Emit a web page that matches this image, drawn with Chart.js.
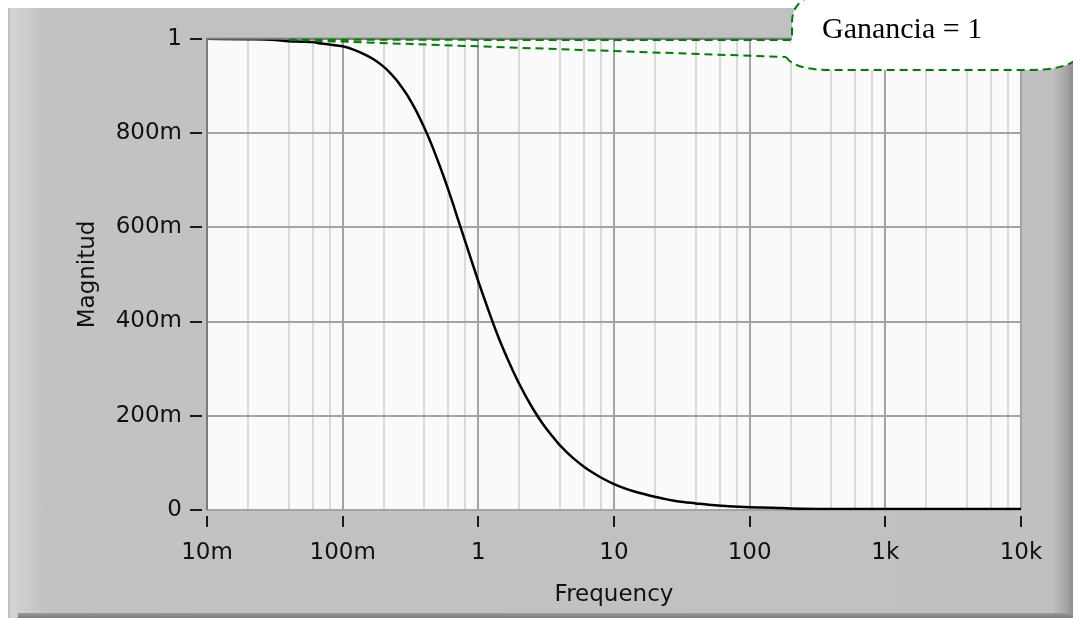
<!DOCTYPE html>
<html>
<head>
<meta charset="utf-8">
<title>Magnitud</title>
<script src="https://cdn.jsdelivr.net/npm/chart.js@4.4.1/dist/chart.umd.min.js"></script>
<style>
  html, body { margin: 0; padding: 0; background: #fff; overflow: hidden; }
  #frame {
    position: absolute; left: 8px; top: 8px; width: 1065px; height: 610px;
    background: linear-gradient(to right, #b8b8b8 0, #d4d4d4 3px, #cdcdcd 18px, #c2c2c2 36px, #c0c0c0 1044px, #a6a6a6 1058px, #8e8e8e 1065px);
  }
  #frameBottom {
    position: absolute; left: 18px; top: 613px; width: 1055px; height: 5px;
    background: linear-gradient(to bottom, #9a9a9a, #7c7c7c);
  }
  #chart { position: absolute; left: 0; top: 0; }
</style>
</head>
<body>
<div id="frame"></div>
<div id="frameBottom"></div>
<canvas id="chart" width="1073" height="618"></canvas>
<script>
// frequency response
const frequencies = [0.01, 0.02, 0.03, 0.04, 0.05, 0.06, 0.07, 0.08, 0.1, 0.12, 0.15, 0.17, 0.2, 0.22, 0.25, 0.27, 0.3, 0.32, 0.35,
  0.4, 0.45, 0.5, 0.55, 0.6, 0.65, 0.7, 0.75, 0.8, 0.9, 1, 1.1, 1.2, 1.35, 1.5, 1.75, 2, 2.5, 3, 3.5, 4, 5, 6, 7, 8, 10,
  12, 15, 20, 25, 30, 40, 50, 70, 100, 150, 200, 500, 1000, 10000];
const magnitude = [1.000, 0.999, 0.998, 0.995, 0.994, 0.993, 0.990, 0.988, 0.984, 0.977, 0.965, 0.956, 0.941, 0.930, 0.912, 0.899, 0.880, 0.866, 0.846,
  0.811, 0.777, 0.743, 0.711, 0.680, 0.650, 0.621, 0.595, 0.570, 0.525, 0.485, 0.451, 0.420, 0.380, 0.347, 0.303, 0.268, 0.217, 0.182, 0.157, 0.137, 0.110, 0.092, 0.079, 0.069, 0.055,
  0.046, 0.037, 0.028, 0.022, 0.018, 0.014, 0.011, 0.008, 0.006, 0.005, 0.003, 0.002, 0.002, 0.002];

const xTickValues = [0.01, 0.1, 1, 10, 100, 1000, 10000];
const xTickLabels = ["10m", "100m", "1", "10", "100", "1k", "10k"];
const yTickValues = [0, 0.2, 0.4, 0.6, 0.8, 1];
const yTickLabels = ["0", "200m", "400m", "600m", "800m", "1"];
const minorSteps = [2, 4, 6, 8];

const calloutText = "Ganancia = 1";

// decade lines plus the minor lines in between
const xGridValues = [];
xTickValues.forEach((d, i) => {
  xGridValues.push(d);
  if (i < xTickValues.length - 1) minorSteps.forEach(m => xGridValues.push(+(d * m).toPrecision(3)));
});

const axisFont = { family: "DejaVu Sans", size: 23 };

const plotDecor = {
  id: "plotDecor",
  beforeDraw(chart) {
    const { ctx, chartArea: a } = chart;
    ctx.save();
    ctx.fillStyle = "#fafafa";
    ctx.fillRect(a.left, a.top, a.right - a.left, a.bottom - a.top);
    ctx.restore();
  },
  afterDraw(chart) {
    const { ctx, chartArea: a, scales } = chart;
    ctx.save();
    // plot border, dark on top and left
    ctx.strokeStyle = "#7a7a7a";
    ctx.lineWidth = 2;
    ctx.beginPath();
    ctx.moveTo(a.left, a.bottom);
    ctx.lineTo(a.left, a.top);
    ctx.lineTo(a.right, a.top);
    ctx.stroke();

    // tick marks outside the plot
    ctx.strokeStyle = "#1a1a1a";
    ctx.lineWidth = 2;
    ctx.beginPath();
    yTickValues.forEach(v => {
      const y = Math.round(scales.y.getPixelForValue(v));
      ctx.moveTo(a.left - 17, y);
      ctx.lineTo(a.left - 5, y);
    });
    xTickValues.forEach(v => {
      const x = Math.round(scales.x.getPixelForValue(v));
      ctx.moveTo(x, a.bottom + 6);
      ctx.lineTo(x, a.bottom + 17);
    });
    ctx.stroke();

    // callout pointing at the flat part of the curve
    const tipX = scales.x.getPixelForValue(0.04);
    const tipY = scales.y.getPixelForValue(1) + 1;
    ctx.strokeStyle = "#008000";
    ctx.lineWidth = 2;
    ctx.setLineDash([8, 5]);
    ctx.beginPath();
    ctx.moveTo(tipX, tipY);
    ctx.lineTo(792, 40);
    ctx.moveTo(tipX, tipY);
    ctx.lineTo(786, 57);
    ctx.stroke();

    ctx.beginPath();
    ctx.moveTo(810, -4);
    ctx.quadraticCurveTo(792, 4, 792, 22);
    ctx.lineTo(792, 40);
    ctx.lineTo(786, 57);
    ctx.quadraticCurveTo(795, 70, 830, 70);
    ctx.lineTo(1030, 70);
    ctx.quadraticCurveTo(1062, 70, 1076, 60);
    ctx.lineTo(1076, -4);
    ctx.closePath();
    ctx.fillStyle = "#ffffff";
    ctx.fill();
    ctx.beginPath();
    ctx.moveTo(810, -4);
    ctx.quadraticCurveTo(792, 4, 792, 22);
    ctx.lineTo(792, 40);
    ctx.moveTo(786, 57);
    ctx.quadraticCurveTo(795, 70, 830, 70);
    ctx.lineTo(1030, 70);
    ctx.quadraticCurveTo(1062, 70, 1076, 60);
    ctx.stroke();
    ctx.setLineDash([]);

    ctx.fillStyle = "#000";
    ctx.font = "30px 'Liberation Serif'";
    ctx.textBaseline = "alphabetic";
    ctx.fillText(calloutText, 822, 38);
    ctx.restore();
  }
};

new Chart(document.getElementById("chart"), {
  type: "line",
  data: {
    datasets: [{
      data: frequencies.map((f, i) => ({ x: f, y: magnitude[i] })),
      borderColor: "#000",
      borderWidth: 2.5,
      pointRadius: 0,
      cubicInterpolationMode: "monotone",
      fill: false
    }]
  },
  options: {
    responsive: false,
    animation: false,
    devicePixelRatio: 1,
    layout: { padding: { left: 0, top: 35, right: 52, bottom: 0 } },
    plugins: { legend: { display: false }, tooltip: { enabled: false } },
    scales: {
      x: {
        type: "logarithmic",
        min: 0.01,
        max: 10000,
        afterBuildTicks: scale => {
          scale.ticks = xGridValues.map(v => ({ value: v, major: xTickValues.includes(v) }));
        },
        afterFit: scale => { scale.height = 108; },
        grid: {
          drawTicks: false,
          color: c => (c.tick && c.tick.major ? "#a4a4a4" : "#d9d9d9"),
          lineWidth: 2
        },
        border: { display: false },
        ticks: {
          autoSkip: false,
          maxRotation: 0,
          padding: 29,
          color: "#111",
          font: axisFont,
          callback: value => {
            const i = xTickValues.indexOf(value);
            return i >= 0 ? xTickLabels[i] : "";
          }
        },
        title: {
          display: true,
          text: "Frequency",
          color: "#111",
          font: axisFont,
          padding: { top: 0, bottom: 9 }
        }
      },
      y: {
        min: 0,
        max: 1,
        afterBuildTicks: scale => {
          scale.ticks = yTickValues.map(v => ({ value: v }));
        },
        afterFit: scale => { scale.width = 207; },
        grid: { drawTicks: false, color: "#a4a4a4", lineWidth: 2 },
        border: { display: false },
        ticks: {
          padding: 25,
          color: "#111",
          font: axisFont,
          callback: (value, index) => yTickLabels[index]
        },
        title: {
          display: true,
          text: "Magnitud",
          color: "#111",
          font: axisFont,
          padding: { top: 74, bottom: 0 }
        }
      }
    }
  },
  plugins: [plotDecor]
});
</script>
</body>
</html>
